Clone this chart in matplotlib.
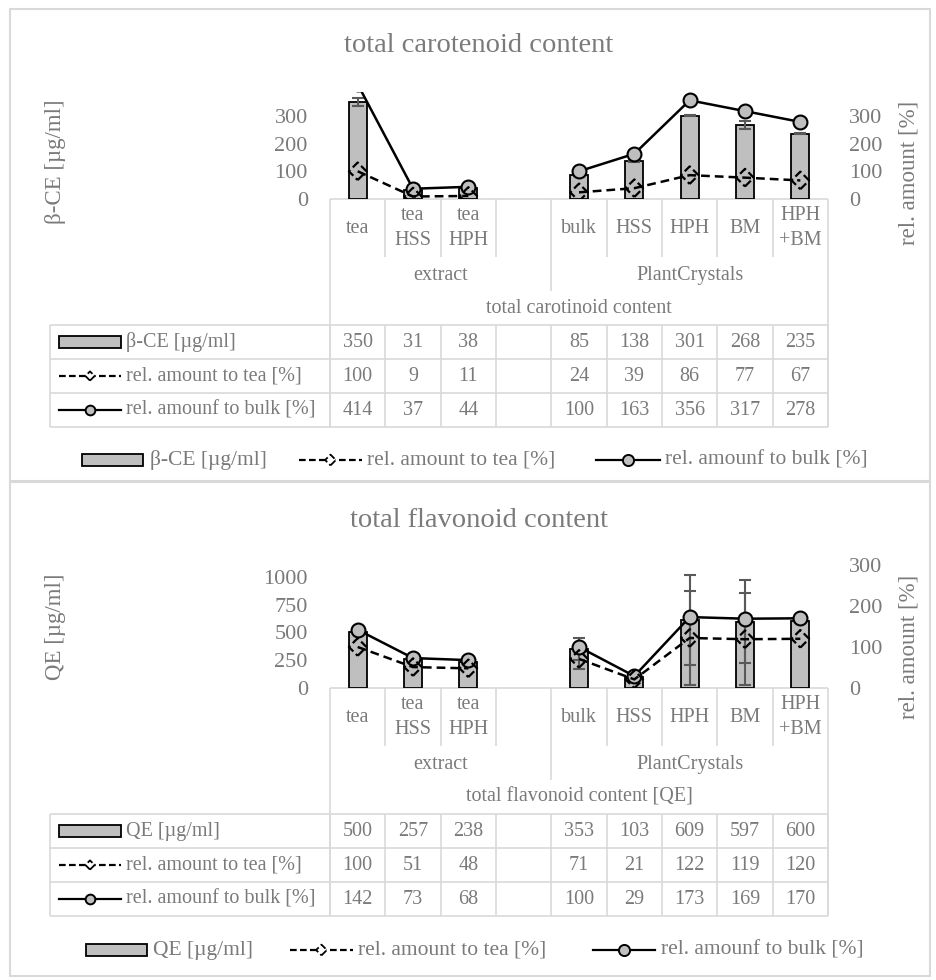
import numpy as np
import matplotlib
matplotlib.use("Agg")
import matplotlib.pyplot as plt
from matplotlib.patches import Rectangle

plt.rcParams["font.family"] = ["Liberation Serif", "DejaVu Serif"]

W, H = 936, 980
GRID = "#d9d9d9"
TXT = "#7a7a7a"
BARC = "#bfbfbf"

# data
categories = ["tea", "tea\nHSS", "tea\nHPH", "", "bulk", "HSS", "HPH", "BM", "HPH\n+BM"]
groups = ["extract", "PlantCrystals"]
group_spans = [(0, 4), (4, 9)]

car_ce = [350, 31, 38, np.nan, 85, 138, 301, 268, 235]
car_tea = [100, 9, 11, np.nan, 24, 39, 86, 77, 67]
car_bulk = [414, 37, 44, np.nan, 100, 163, 356, 317, 278]
car_err = [15, 2, 2, np.nan, 2, 3, 2, 15, 2]
car_tea_err = [0, 0, 0, np.nan, 0, 0, 0, 0, 0]

flav_qe = [500, 257, 238, np.nan, 353, 103, 609, 597, 600]
flav_tea = [100, 51, 48, np.nan, 71, 21, 122, 119, 120]
flav_bulk = [142, 73, 68, np.nan, 100, 29, 173, 169, 170]
flav_err = [0, 0, 0, np.nan, 100, 0, 405, 375, 0]
flav_tea_err = [0, 0, 0, np.nan, 24, 0, 115, 112, 0]

FS_TAB = 14.5
FS_TICK = 16
FS_LEG = 15.5
FS_TITLE = 20.5
FS_AX = 16.5

fig = plt.figure(figsize=(W / 100, H / 100), dpi=100)
ov = fig.add_axes([0, 0, 1, 1])
ov.set_xlim(0, W)
ov.set_ylim(H, 0)
ov.axis("off")


def box(x0, y0, x1, y1):
    return [x0 / W, 1 - y1 / H, (x1 - x0) / W, (y1 - y0) / H]


def hline(y, x0, x1):
    ov.plot([x0, x1], [y, y], color=GRID, lw=1.2, solid_capstyle="butt")


def vline(x, y0, y1):
    ov.plot([x, x], [y0, y1], color=GRID, lw=1.2, solid_capstyle="butt")


def key_bar(x0, x1, y):
    ov.add_patch(Rectangle((x0, y - 6), x1 - x0, 12, facecolor=BARC, edgecolor="black", lw=1.3))


def key_dash(x0, x1, y, s=30):
    ov.plot([x0, x1], [y, y], color="black", lw=1.6, ls=(0, (3, 1.5)))
    ov.scatter([(x0 + x1) / 2], [y], marker="D", s=s, facecolors="white",
               edgecolors="black", linewidths=1.3, linestyles="--", zorder=3)


def key_solid(x0, x1, y, ms=7):
    ov.plot([x0, x1], [y, y], color="black", lw=1.6)
    ov.plot([(x0 + x1) / 2], [y], marker="o", ms=ms, mfc=BARC, mec="black", mew=1.4)


def panel(fy0, fy1, title, title_y, ptop, pbot, bars, tea, bulk, err, tea_err,
          llim, lticks, rlim, rticks, ylabel, ly, ry, table_title, bar_label):
    # frame
    ov.add_patch(Rectangle((10, fy0), 920, fy1 - fy0, fill=False, edgecolor=GRID, lw=1.5))
    ov.text(479, title_y, title, ha="center", va="center", fontsize=FS_TITLE, color=TXT)

    tx0, tx1 = 330, 828
    n = len(categories)
    cw = (tx1 - tx0) / n
    x = np.arange(n)
    bars = np.array(bars, float)
    tea = np.array(tea, float)
    bulk = np.array(bulk, float)
    err = np.array(err, float)
    tea_err = np.array(tea_err, float)

    ax = fig.add_axes(box(tx0, ptop, tx1, pbot))
    ax.patch.set_alpha(0)
    ax.bar(x, bars, width=0.33, color=BARC, edgecolor="black", lw=1.3, zorder=2)
    m = err > 0
    ax.errorbar(x[m], bars[m], yerr=err[m], fmt="none", ecolor="#595959",
                elinewidth=1.5, capsize=4, capthick=1.5, zorder=3)
    ax.set_xlim(-0.5, n - 0.5)
    ax.set_ylim(*llim)
    ax.set_yticks(lticks)
    ax.set_xticks([])
    ax.tick_params(axis="y", length=0, labelsize=FS_TICK, labelcolor=TXT, pad=16)
    for s in ax.spines.values():
        s.set_visible(False)

    ax2 = ax.twinx()
    ax2.plot(x, bulk, "-", color="black", lw=1.8, marker="o", ms=10,
             mfc=BARC, mec="black", mew=1.5, zorder=3)
    ax2.plot(x, tea, color="black", lw=1.8, ls=(0, (3.5, 2)), zorder=4)
    ax2.scatter(x, tea, marker="D", s=80, facecolors="none", edgecolors="black",
                linewidths=1.6, linestyles="--", zorder=5)
    mt = tea_err > 0
    if mt.any():
        ax2.errorbar(x[mt], tea[mt], yerr=tea_err[mt], fmt="none", ecolor="#595959",
                     elinewidth=1.5, capsize=4, capthick=1.5, zorder=2)
    ax2.set_ylim(*rlim)
    ax2.set_yticks(rticks)
    ax2.tick_params(axis="y", length=0, labelsize=FS_TICK, labelcolor=TXT, pad=15)
    for s in ax2.spines.values():
        s.set_visible(False)

    ov.text(55, ly, ylabel, rotation=90, ha="center", va="center", fontsize=FS_AX, color=TXT)
    ov.text(909, ry, "rel. amount [%]", rotation=90, ha="center", va="center",
            fontsize=FS_AX, color=TXT)

    # data table
    y0 = pbot
    hline(y0, tx0, tx1)
    for k in range(1, n):
        vline(tx0 + k * cw, y0, y0 + 58)
    vline(tx0, y0, y0 + 228)
    vline(tx1, y0, y0 + 228)
    for i, c in enumerate(categories):
        ov.text(tx0 + (i + 0.5) * cw, y0 + 29, c, ha="center", va="center",
                fontsize=FS_TAB, color=TXT, linespacing=1.45)
    for g, (a, b) in zip(groups, group_spans):
        ov.text(tx0 + (a + b) / 2 * cw, y0 + 76, g, ha="center", va="center",
                fontsize=FS_TAB, color=TXT)
    vline(tx0 + 4 * cw, y0 + 58, y0 + 92)
    ov.text((tx0 + tx1) / 2, y0 + 109, table_title, ha="center", va="center",
            fontsize=FS_TAB, color=TXT)

    rows_top = y0 + 126
    rh = 34
    for r in range(4):
        hline(rows_top + r * rh, 50, tx1)
    vline(50, rows_top, rows_top + 3 * rh)
    for k in range(n + 1):
        vline(tx0 + k * cw, rows_top, rows_top + 3 * rh)
    row_labels = [bar_label, "rel. amount to tea [%]", "rel. amounf to bulk [%]"]
    row_vals = [bars, tea, bulk]
    for r in range(3):
        yc = rows_top + (r + 0.5) * rh
        if r == 0:
            key_bar(59, 121, yc)
        elif r == 1:
            key_dash(59, 121, yc, s=22)
        else:
            key_solid(59, 121, yc)
        ov.text(126, yc, row_labels[r], ha="left", va="center", fontsize=FS_TAB, color=TXT)
        for i, v in enumerate(row_vals[r]):
            if not np.isnan(v):
                ov.text(tx0 + (i + 0.5) * cw, yc, f"{v:.0f}", ha="center", va="center",
                        fontsize=FS_TAB, color=TXT)
    return y0


# top panel
pb = panel(9, 481, "total carotenoid content", 46, 92, 199,
           car_ce, car_tea, car_bulk, car_err, car_tea_err,
           (0, 386), [0, 100, 200, 300], (0, 386), [0, 100, 200, 300],
           "β-CE [µg/ml]", 162, 173, "total carotinoid content", "β-CE [µg/ml]")
ly = pb + 261
key_bar(82, 143, ly)
ov.text(150, ly, "β-CE [µg/ml]", ha="left", va="center", fontsize=FS_LEG, color=TXT)
key_dash(299, 362, ly, s=30)
ov.text(367, ly, "rel. amount to tea [%]", ha="left", va="center", fontsize=FS_LEG, color=TXT)
key_solid(596, 660, ly, ms=8)
ov.text(665, ly, "rel. amounf to bulk [%]", ha="left", va="center", fontsize=FS_LEG, color=TXT)

# bottom panel
pb = panel(482, 976, "total flavonoid content", 520, 565, 688,
           flav_qe, flav_tea, flav_bulk, flav_err, flav_tea_err,
           (0, 1108), [0, 250, 500, 750, 1000], (0, 300), [0, 100, 200, 300],
           "QE [µg/ml]", 627, 647, "total flavonoid content [QE]", "QE [µg/ml]")
ly = pb + 262
key_bar(86, 147, ly)
ov.text(153, ly, "QE [µg/ml]", ha="left", va="center", fontsize=FS_LEG, color=TXT)
key_dash(290, 353, ly, s=30)
ov.text(358, ly, "rel. amount to tea [%]", ha="left", va="center", fontsize=FS_LEG, color=TXT)
key_solid(593, 655, ly, ms=8)
ov.text(661, ly, "rel. amounf to bulk [%]", ha="left", va="center", fontsize=FS_LEG, color=TXT)

fig.savefig("out.png", dpi=100, facecolor="white")
